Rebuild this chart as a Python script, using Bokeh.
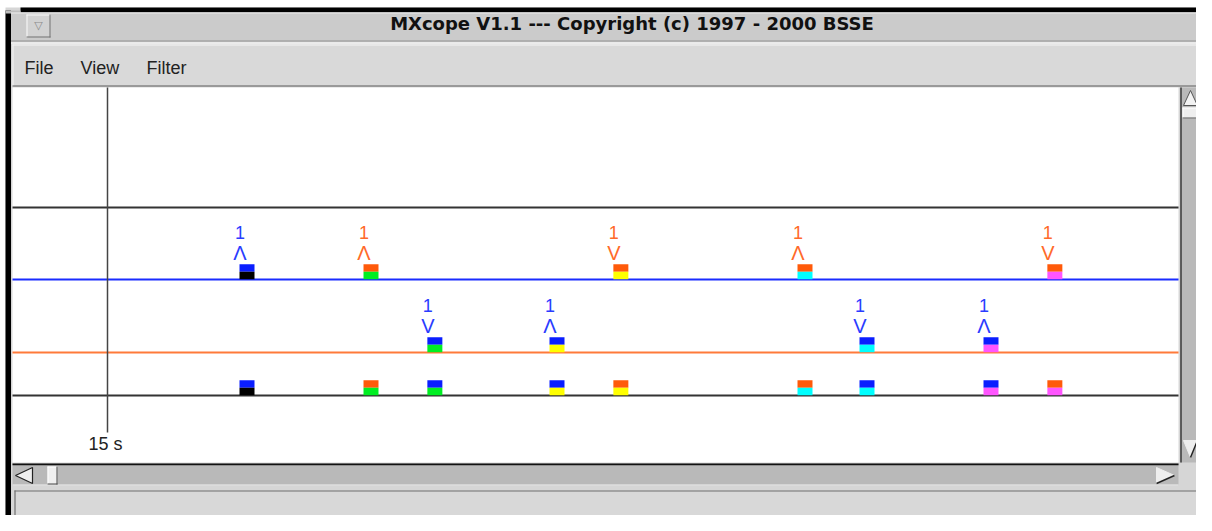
from bokeh.plotting import figure
from bokeh.models import Range1d, ColumnDataSource
from bokeh.core.properties import value
from bokeh.embed import file_html
from bokeh.resources import INLINE

# ---------------- data ----------------
TITLE = "MXcope V1.1 --- Copyright (c) 1997 - 2000 BSSE"
MENU_ITEMS = ["File", "View", "Filter"]

event_times = [17.25, 19.25, 20.28, 22.25, 23.28, 26.25, 27.25, 29.25, 30.28]   # seconds
event_lane = [0, 0, 1, 1, 0, 0, 1, 1, 0]                                        # 0 = blue lane, 1 = orange lane
event_sender = ["blue", "orange", "blue", "blue", "orange", "orange", "blue", "blue", "orange"]
event_kind = ["black", "green", "green", "yellow", "yellow", "cyan", "cyan", "magenta", "magenta"]
event_dir = ["up", "up", "down", "up", "down", "up", "down", "up", "down"]
event_count = ["1", "1", "1", "1", "1", "1", "1", "1", "1"]

tick_times = [15]
tick_labels = ["15 s"]

# ---------------- styles / layout ----------------
PX_PER_S = 62.0
T_X = 107          # pixel of t = 15 s
LANE_Y = {0: 279, 1: 352, 2: 395}
SENDER_BOX = {"blue": "#0a1eff", "orange": "#ff5a0a"}
SENDER_TXT = {"blue": "#2a3cff", "orange": "#ff6a2a"}
KIND_COL = {"black": "#000000", "green": "#00ee22", "yellow": "#ffff00",
            "cyan": "#00ffff", "magenta": "#ff55ff"}
ARROW = {"up": "\u039b", "down": "V"}
WIN_BG = "#d6d6d6"
FONT = value("Liberation Sans")

W, H = 1196, 515
p = figure(width=W, height=H, x_range=Range1d(0, W), y_range=Range1d(H, 0),
           output_backend="svg", toolbar_location=None, min_border=0,
           outline_line_color=None, background_fill_color="white",
           border_fill_color="white")
p.axis.visible = False
p.grid.visible = False
p.extra_x_ranges = {"time": Range1d(tick_times[0] - T_X / PX_PER_S,
                                    tick_times[0] + (W - T_X) / PX_PER_S)}


def box(l, t, r, b, fill, line=None):
    p.quad(left=l, right=r, top=t, bottom=b, fill_color=fill, line_color=line)


def hline(x0, x1, y, color, w=1):
    p.segment(x0=x0, x1=x1, y0=y, y1=y, line_color=color, line_width=w)


def vline(x, y0, y1, color, w=1):
    p.segment(x0=x, x1=x, y0=y0, y1=y1, line_color=color, line_width=w)


def bevel(l, t, r, b, fill, light="#f4f4f4", dark="#6a6a6a"):
    box(l, t, r, b, fill)
    hline(l, r, t + 0.5, light)
    vline(l + 0.5, t, b, light)
    hline(l, r, b - 0.5, dark)
    vline(r - 0.5, t, b, dark)


# window background
box(5, 7, 1212, 531, WIN_BG)
# left thick border and top bar
box(5, 10, 10.5, 525, "#000000")
box(20, 7, 1196, 12, "#000000")
box(5, 10, 20, 13, "#bdbdbd")
# title bar
box(10.5, 12, 1200, 40, "#cbcbcb")
hline(10.5, 1200, 12.5, "#ececec")
hline(10.5, 1200, 40.5, "#8a8a8a")
hline(10.5, 1200, 42.5, "#ffffff")
bevel(26, 14, 50, 37, "#d2d2d2", light="#fafafa", dark="#707070")
p.text(x=[38], y=[25], text=["\u25bd"], text_font=value("DejaVu Sans"), text_font_size="11px",
       text_color="#8a8a8a", text_align="center", text_baseline="middle")
p.text(x=[631.5], y=[23], text=[TITLE], text_font=value("DejaVu Sans"), text_font_style="bold",
       text_font_size="18px", text_color="#111111", text_align="center", text_baseline="middle")
# menu bar
bevel(12, 44, 1200, 86, "#d9d9d9", light="#f6f6f6", dark="#5a5a5a")
p.text(x=[24, 80, 146], y=[67, 67, 67], text=MENU_ITEMS, text_font=FONT, text_font_size="18px",
       text_color="#222222", text_align="left", text_baseline="middle")

# drawing canvas
box(12, 87, 1178, 462, "#ffffff")

# vertical scrollbar
box(1180, 87, 1200, 462, "#b9b9b9")
vline(1180.5, 87, 462, "#3a3a3a", 1.5)
vline(1199.5, 87, 462, "#efefef")
p.patch(x=[1183, 1197, 1190], y=[105, 105, 90], fill_color="#f2f2f2", line_color="#555555", line_width=1)
bevel(1182, 107, 1198, 118, "#efefef", light="#ffffff", dark="#555555")
p.patch(x=[1183, 1197, 1190], y=[440, 440, 457], fill_color="#eeeeee", line_color="#eeeeee")
p.segment(x0=[1190], y0=[457], x1=[1197], y1=[440], line_color="#222222", line_width=1.5)

# horizontal scrollbar
box(12, 463, 1178, 485, "#b9b9b9")
hline(12, 1178, 463.8, "#111111", 1.8)
hline(12, 1178, 484.5, "#f0f0f0")
p.patch(x=[32, 32, 15], y=[467, 483, 475], fill_color="#eeeeee", line_color="#222222", line_width=1.2)
bevel(47, 466, 57, 484, "#efefef", light="#ffffff", dark="#444444")
p.patch(x=[1156, 1156, 1174], y=[467, 483, 475], fill_color="#eeeeee", line_color="#eeeeee")
p.segment(x0=[1156], y0=[483], x1=[1174], y1=[475], line_color="#222222", line_width=1.5)

# status bar
box(14, 490, 1206, 526, "#d8d8d8")
hline(14, 1206, 490.5, "#6e6e6e", 1.2)
vline(14.5, 490, 526, "#6e6e6e", 1.2)
hline(14, 1206, 525.5, "#f6f6f6")
vline(1205.5, 490, 526, "#f6f6f6")

# ---------------- chart content ----------------
# lane lines
hline(12, 1178, 207, "#333333", 1.8)
hline(12, 1178, LANE_Y[0], "#1a2cff", 1.8)
hline(12, 1178, LANE_Y[1], "#ff7a3a", 1.8)
hline(12, 1178, LANE_Y[2], "#333333", 1.8)

# time tick
p.segment(x0=tick_times, x1=tick_times, y0=[87] * len(tick_times), y1=[432] * len(tick_times),
          line_color="#444444", line_width=1.5, x_range_name="time")
p.text(x=tick_times, y=[443] * len(tick_times), text=tick_labels, text_font=FONT,
       text_font_size="18px", text_color="#222222", text_align="center",
       text_baseline="middle", x_offset=-2, x_range_name="time")

# event markers (upper lanes + summary lane)
rows = []
for t, ln, s, k, d, c in zip(event_times, event_lane, event_sender, event_kind, event_dir, event_count):
    for lane in (ln, 2):
        rows.append(dict(t=t, base=LANE_Y[lane], top=SENDER_BOX[s], bot=KIND_COL[k],
                         label=(lane != 2), txt=SENDER_TXT[s], arrow=ARROW[d], count=c))

src = ColumnDataSource(dict(
    t=[r["t"] for r in rows],
    ytop=[r["base"] - 11.5 for r in rows],
    ybot=[r["base"] - 4 for r in rows],
    ctop=[r["top"] for r in rows],
    cbot=[r["bot"] for r in rows],
))
p.rect(x="t", y="ytop", width=15, height=7.5, width_units="screen", source=src,
       fill_color="ctop", line_color=None, x_range_name="time")
p.rect(x="t", y="ybot", width=15, height=7.5, width_units="screen", source=src,
       fill_color="cbot", line_color=None, x_range_name="time")

lab = [r for r in rows if r["label"]]
lsrc = ColumnDataSource(dict(
    t=[r["t"] for r in lab],
    ycount=[r["base"] - 47.5 for r in lab],
    yarrow=[r["base"] - 27 for r in lab],
    count=[r["count"] for r in lab],
    arrow=[r["arrow"] for r in lab],
    col=[r["txt"] for r in lab],
))
p.text(x="t", y="ycount", text="count", source=lsrc, text_color="col", text_font=FONT,
       text_font_size="18px", text_align="center", text_baseline="middle",
       x_offset=-7, x_range_name="time")
p.text(x="t", y="yarrow", text="arrow", source=lsrc, text_color="col", text_font=FONT,
       text_font_size="20px", text_align="center", text_baseline="middle",
       x_offset=-7, x_range_name="time")

open("out.html", "w").write(file_html(p, INLINE))
